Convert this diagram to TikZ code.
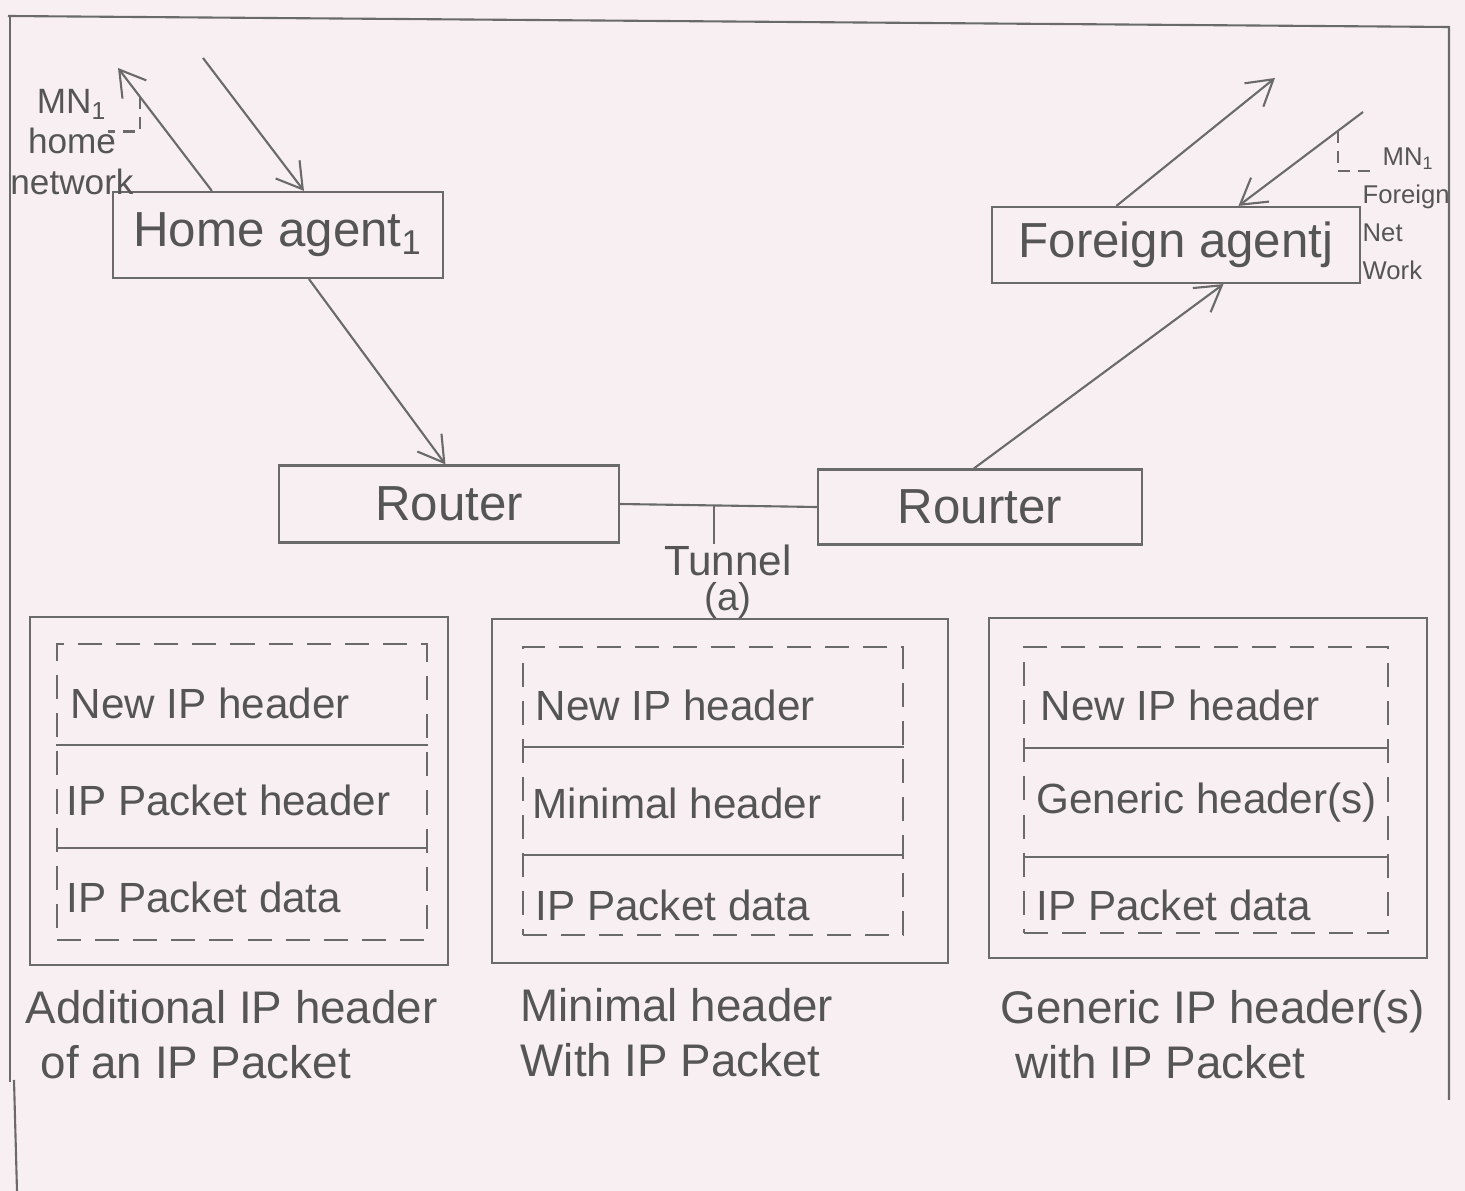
\documentclass[tikz,border=0pt]{standalone}
\usepackage{fontspec}
\setmainfont{Liberation Sans}
\usetikzlibrary{arrows.meta, calc, positioning}
\definecolor{paper}{HTML}{F8EFF3}
\definecolor{pencil}{HTML}{6A6A6A}
\definecolor{lead}{HTML}{555555}

\begin{document}
\begin{tikzpicture}[x=0.01cm, y=-0.01cm,
    every node/.style={text=lead, font=\fontsize{13}{15}\selectfont},
    pen/.style={draw=pencil, line width=0.6pt},
    arr/.style={pen, -{Straight Barb[length=2.5mm, width=3mm]}},
    box/.style={pen, rectangle, inner sep=0pt, font=\fontsize{14}{16}\selectfont},
    pkt/.style={pen, rectangle, inner sep=0pt},
    dashbox/.style={pen, dash pattern=on 2.4mm off 1.4mm, rectangle, inner sep=0pt},
    rowtxt/.style={anchor=west, inner sep=0pt, font=\fontsize{12}{14}\selectfont},
    netlbl/.style={align=left, inner sep=0pt, font=\fontsize{10}{11.4}\selectfont},
    caplbl/.style={anchor=north west, align=left, inner sep=0pt, font=\fontsize{13}{15.5}\selectfont}]

  % page and frame
  \fill[paper] (0,0) rectangle (1465,1191);
  \useasboundingbox (0,0) rectangle (1465,1191);
  \draw[pen] (8,16) -- (1449,27) -- (1449,1100);
  \draw[pen] (10,16) -- (10,1082);
  \draw[pen] (14,1080) -- (17,1191);

  % agents and routers
  \node[box, minimum width=3.30cm, minimum height=0.86cm] (ha) at (278,235) {Home agent\textsubscript{1}};
  \node[box, minimum width=3.67cm, minimum height=0.76cm] (fa) at (1176,245) {Foreign agentj};
  \node[box, minimum width=3.39cm, minimum height=0.77cm] (r1) at (449,504) {Router};
  \node[box, minimum width=3.24cm, minimum height=0.75cm] (r2) at (980,507) {Rourter};

  \node[netlbl, align=center] (mnh) at (72,142) {MN\textsubscript{1}\\home\\network};
  \node[netlbl, anchor=west, font=\fontsize{7.3}{10.8}\selectfont] (mnf) at (1362,214) {\hspace{2mm}MN\textsubscript{1}\\Foreign\\Net\\Work};

  \coordinate (hatop) at (118,68);
  \coordinate (hain) at (203,58);
  \coordinate (fatop) at (1275,78);
  \coordinate (fain) at (1363,112);

  \draw[arr] ([xshift=1.00cm]ha.north west) -- (hatop);
  \draw[arr] (hain) -- ([xshift=1.92cm]ha.north west);
  \draw[arr] ([xshift=1.97cm]ha.south west) -- ([xshift=1.67cm]r1.north west);
  \draw[pen] (r1.east) -- (r2.west);
  \draw[arr] ([xshift=1.57cm]r2.north west) -- ([xshift=2.32cm]fa.south west);
  \draw[arr] ([xshift=1.25cm]fa.north west) -- (fatop);
  \draw[arr] (fain) -- ([xshift=2.47cm]fa.north west);

  % mobile node markers
  \draw[pen, dash pattern=on 1.2mm off 0.8mm] ($([xshift=1.00cm]ha.north west)!0.768!(hatop)$) -- ++(0,35) -- ++(-32,0);
  \draw[pen, dash pattern=on 1.2mm off 0.8mm] ($(fain)!0.203!([xshift=2.47cm]fa.north west)$) -- ++(0,40) -- ++(34,0);

  % tunnel
  \node[align=center, inner sep=0pt, font=\fontsize{12}{13}\selectfont] (tun) at (728,582) {Tunnel\\[-3pt]{\fontsize{11}{12}\selectfont(a)}};
  \coordinate (tk) at ($(r1.east)!0.48!(r2.west)$);
  \draw[pen] (tk) -- (tk |- tun.north);

  % additional IP header
  \node[pkt, minimum width=4.18cm, minimum height=3.47cm] (p1) at (239,791) {};
  \node[dashbox, minimum width=3.69cm, minimum height=2.95cm] (d1) at (242,792) {};
  \draw[pen] (d1.west |- 0,745) -- (d1.east |- 0,745);
  \draw[pen] (d1.west |- 0,848) -- (d1.east |- 0,848);
  \node[rowtxt] (t1a) at (70,703) {New IP header};
  \node[rowtxt] (t1b) at (66,800) {IP Packet header};
  \node[rowtxt] (t1c) at (66,897) {IP Packet data};
  \node[caplbl] (c1) at (25,990) {Additional IP header\\\hspace{1.5mm}of an IP Packet};

  % minimal header
  \node[pkt, minimum width=4.55cm, minimum height=3.43cm] (p2) at (720,791) {};
  \node[dashbox, minimum width=3.80cm, minimum height=2.88cm] (d2) at (713,791) {};
  \draw[pen] (d2.west |- 0,747) -- (d2.east |- 0,747);
  \draw[pen] (d2.west |- 0,855) -- (d2.east |- 0,855);
  \node[rowtxt] (t2a) at (535,705) {New IP header};
  \node[rowtxt] (t2b) at (532,803) {Minimal header};
  \node[rowtxt] (t2c) at (535,905) {IP Packet data};
  \node[caplbl] (c2) at (520,988) {Minimal header\\With IP Packet};

  % generic header
  \node[pkt, minimum width=4.37cm, minimum height=3.40cm] (p3) at (1208,788) {};
  \node[dashbox, minimum width=3.63cm, minimum height=2.85cm] (d3) at (1206,790) {};
  \draw[pen] (d3.west |- 0,748) -- (d3.east |- 0,748);
  \draw[pen] (d3.west |- 0,857) -- (d3.east |- 0,857);
  \node[rowtxt] (t3a) at (1040,705) {New IP header};
  \node[rowtxt] (t3b) at (1036,803) {Generic header(s)};
  \node[rowtxt] (t3c) at (1036,905) {IP Packet data};
  \node[caplbl] (c3) at (1000,990) {Generic IP header(s)\\\hspace{1.5mm}with IP Packet};
\end{tikzpicture}
\end{document}
